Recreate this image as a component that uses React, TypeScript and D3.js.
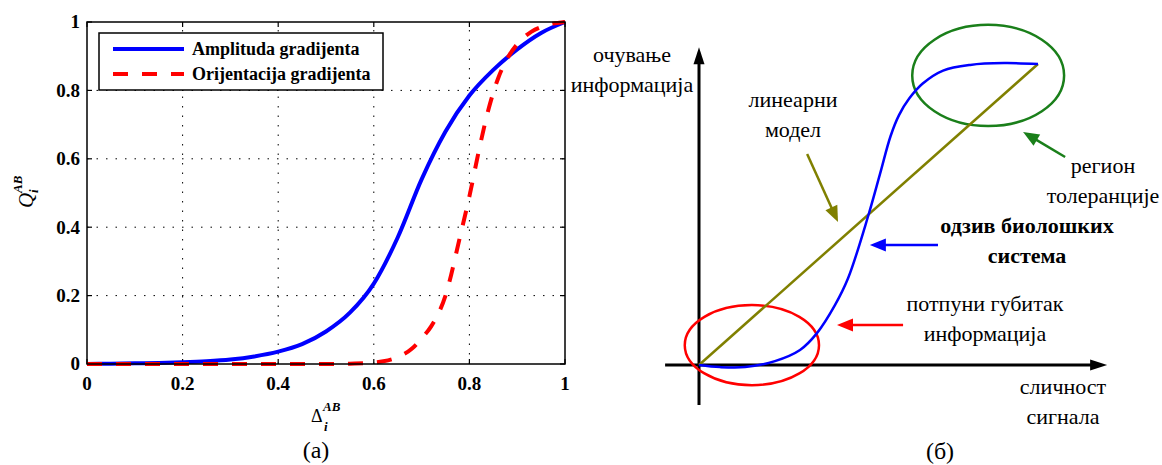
import React, { useEffect, useRef } from "react";
import * as d3 from "d3";

// ---- left panel (a): Q_i^AB vs Delta_i^AB ----
const tickValues = [0, 0.2, 0.4, 0.6, 0.8, 1];
const tickLabels = ["0", "0.2", "0.4", "0.6", "0.8", "1"];
const legendLabels = ["Amplituda gradijenta", "Orijentacija gradijenta"];

const ampX = [0, 0.05, 0.1, 0.15, 0.2, 0.25, 0.3, 0.35, 0.4, 0.45, 0.5, 0.55, 0.6, 0.65, 0.7, 0.75, 0.8, 0.85, 0.9, 0.95, 1];
const ampY = [0, 0.001, 0.002, 0.003, 0.005, 0.008, 0.013, 0.022, 0.036, 0.058, 0.095, 0.15, 0.235, 0.37, 0.54, 0.68, 0.785, 0.86, 0.92, 0.968, 1];

const oriX = [0, 0.1, 0.2, 0.3, 0.4, 0.5, 0.55, 0.6, 0.62, 0.65, 0.68, 0.7, 0.72, 0.75, 0.78, 0.8, 0.82, 0.84, 0.86, 0.88, 0.9, 0.93, 0.96, 1];
const oriY = [0, 0, 0, 0, 0, 0, 0.001, 0.004, 0.008, 0.02, 0.045, 0.075, 0.11, 0.2, 0.37, 0.49, 0.625, 0.745, 0.835, 0.895, 0.935, 0.972, 0.99, 1];

// ---- right panel (б): schematic ----
const bioX = [0, 0.062, 0.136, 0.224, 0.298, 0.348, 0.401, 0.44, 0.499, 0.534, 0.565, 0.59, 0.62, 0.66, 0.72, 0.8, 0.9, 1];
const bioY = [0, -0.007, -0.007, 0.013, 0.05, 0.106, 0.199, 0.289, 0.495, 0.635, 0.76, 0.83, 0.885, 0.935, 0.978, 0.997, 1.003, 1];
const linX = [0, 1];
const linY = [0, 1];

// regions (centre x, centre y, radius x, radius y) in diagram units
const regions = [
  { cx: 0.156, cy: 0.066, rx: 0.198, ry: 0.133, color: "#ff0000" },
  { cx: 0.853, cy: 0.962, rx: 0.224, ry: 0.168, color: "#1a7f1a" },
];

// annotation arrows, tail -> tip, in diagram units
const pointers = [
  { x0: 0.319, y0: 0.701, x1: 0.41, y1: 0.475, color: "#808000" },
  { x0: 0.705, y0: 0.399, x1: 0.504, y1: 0.399, color: "#0000ff" },
  { x0: 0.602, y0: 0.133, x1: 0.407, y1: 0.133, color: "#ff0000" },
  { x0: 1.08, y0: 0.691, x1: 0.956, y1: 0.774, color: "#1a7f1a" },
];

const labels = [
  { lines: ["очување", "информација"], x: 632, y: 62, bold: false },
  { lines: ["линеарни", "модел"], x: 793, y: 107, bold: false },
  { lines: ["регион", "толеранције"], x: 1103, y: 173, bold: false },
  { lines: ["одзив биолошких", "система"], x: 1027, y: 233, bold: true },
  { lines: ["потпуни губитак", "информација"], x: 985, y: 311, bold: false },
  { lines: ["сличност", "сигнала"], x: 1063, y: 394, bold: false },
];

const SERIF = "Liberation Serif";

const App = () => {
  const svgRef = useRef(null);

  useEffect(() => {
    if (!svgRef.current) return;
    const width = 1162;
    const height = 465;

    d3.select(svgRef.current).selectAll("*").remove();
    const svg = d3
      .select(svgRef.current)
      .attr("width", width)
      .attr("height", height);

    const txt = (sel, size, weight = "normal", style = "normal") =>
      sel
        .append("text")
        .attr("font-family", SERIF)
        .attr("font-size", size)
        .attr("font-weight", weight)
        .attr("font-style", style);

    // ===== panel (a) =====
    const x = d3.scaleLinear().domain([0, 1]).range([87, 565]);
    const y = d3.scaleLinear().domain([0, 1]).range([364, 22]);

    const g = svg.append("g");

    // dotted grid
    tickValues.slice(1, -1).forEach((t) => {
      g.append("line")
        .attr("x1", x(t)).attr("x2", x(t))
        .attr("y1", y(0)).attr("y2", y(1))
        .attr("stroke", "#000").attr("stroke-width", 1)
        .attr("stroke-dasharray", "1.5,8");
      g.append("line")
        .attr("x1", x(0)).attr("x2", x(1))
        .attr("y1", y(t)).attr("y2", y(t))
        .attr("stroke", "#000").attr("stroke-width", 1)
        .attr("stroke-dasharray", "1.5,8");
    });

    // ticks on all four sides, pointing inward
    tickValues.forEach((t) => {
      [[y(0), -5], [y(1), 5]].forEach(([yy, d]) =>
        g.append("line")
          .attr("x1", x(t)).attr("x2", x(t))
          .attr("y1", yy).attr("y2", yy + d)
          .attr("stroke", "#000").attr("stroke-width", 1.2)
      );
      [[x(0), 5], [x(1), -5]].forEach(([xx, d]) =>
        g.append("line")
          .attr("x1", xx).attr("x2", xx + d)
          .attr("y1", y(t)).attr("y2", y(t))
          .attr("stroke", "#000").attr("stroke-width", 1.2)
      );
    });

    // tick labels
    tickValues.forEach((t, i) => {
      txt(g, 19, "bold")
        .attr("x", x(t)).attr("y", 390)
        .attr("text-anchor", "middle")
        .text(tickLabels[i]);
      txt(g, 19, "bold")
        .attr("x", 80).attr("y", y(t))
        .attr("dy", "0.34em")
        .attr("text-anchor", "end")
        .text(tickLabels[i]);
    });

    const line = d3
      .line()
      .x((d) => x(d[0]))
      .y((d) => y(d[1]))
      .curve(d3.curveMonotoneX);

    g.append("path")
      .attr("d", line(ampX.map((v, i) => [v, ampY[i]])))
      .attr("fill", "none").attr("stroke", "#0000ff").attr("stroke-width", 4);
    g.append("path")
      .attr("d", line(oriX.map((v, i) => [v, oriY[i]])))
      .attr("fill", "none").attr("stroke", "#ff0000").attr("stroke-width", 4)
      .attr("stroke-dasharray", "15,14");

    // axes box
    g.append("rect")
      .attr("x", x(0)).attr("y", y(1))
      .attr("width", x(1) - x(0)).attr("height", y(0) - y(1))
      .attr("fill", "none").attr("stroke", "#000").attr("stroke-width", 1.5);

    // legend
    const leg = g.append("g");
    leg.append("rect")
      .attr("x", 99).attr("y", 33).attr("width", 284).attr("height", 57)
      .attr("fill", "#fff").attr("stroke", "#000").attr("stroke-width", 1.5);
    legendLabels.forEach((lab, i) => {
      const ly = 49 + i * 25;
      leg.append("line")
        .attr("x1", 113).attr("x2", 184).attr("y1", ly).attr("y2", ly)
        .attr("stroke", i === 0 ? "#0000ff" : "#ff0000")
        .attr("stroke-width", 4)
        .attr("stroke-dasharray", i === 0 ? null : "15,14");
      txt(leg, 18, "bold")
        .attr("x", 192).attr("y", ly).attr("dy", "0.33em")
        .text(lab);
    });

    // y label Q_i^AB (rotated)
    const yl = g.append("g").attr("transform", "translate(30,200) rotate(-90)");
    txt(yl, 21, "normal", "italic").attr("x", -8).attr("y", 3).text("Q");
    txt(yl, 13, "bold", "italic").attr("x", 7).attr("y", 8).text("i");
    txt(yl, 13, "bold", "italic").attr("x", 7).attr("y", -8).text("AB");

    // x label Delta_i^AB
    txt(g, 18).attr("x", 311).attr("y", 422).text("Δ");
    txt(g, 13, "bold", "italic").attr("x", 324).attr("y", 431).text("i");
    txt(g, 13, "bold", "italic").attr("x", 323).attr("y", 411).text("AB");

    txt(g, 24).attr("x", 316).attr("y", 458)
      .attr("text-anchor", "middle").text("(a)");

    // ===== panel (б) =====
    const xr = d3.scaleLinear().domain([0, 1]).range([699, 1038]);
    const yr = d3.scaleLinear().domain([0, 1]).range([365, 64]);
    const r = svg.append("g");

    const arrow = (x0, y0, x1, y1, color, w, headLen, headHalf) => {
      const dx = x1 - x0;
      const dy = y1 - y0;
      const len = Math.hypot(dx, dy);
      const ux = dx / len;
      const uy = dy / len;
      const bx = x1 - ux * headLen;
      const by = y1 - uy * headLen;
      r.append("line")
        .attr("x1", x0).attr("y1", y0).attr("x2", bx + ux * 2).attr("y2", by + uy * 2)
        .attr("stroke", color).attr("stroke-width", w);
      r.append("polygon")
        .attr("points", [
          [x1, y1],
          [bx - uy * headHalf, by + ux * headHalf],
          [bx + uy * headHalf, by - ux * headHalf],
        ].map((p) => p.join(",")).join(" "))
        .attr("fill", color);
    };

    // coordinate axes
    arrow(xr(0), yr(-0.133), xr(0), yr(1.056), "#000", 3, 17, 5.5);
    arrow(xr(-0.1), yr(0), xr(1.204), yr(0), "#000", 3, 17, 5.5);

    // regions
    regions.forEach((e) => {
      r.append("ellipse")
        .attr("cx", xr(e.cx)).attr("cy", yr(e.cy))
        .attr("rx", xr(e.rx) - xr(0)).attr("ry", yr(0) - yr(e.ry))
        .attr("fill", "none").attr("stroke", e.color).attr("stroke-width", 2.5);
    });

    // linear model
    r.append("path")
      .attr("d", d3.line()(linX.map((v, i) => [xr(v), yr(linY[i])])))
      .attr("fill", "none").attr("stroke", "#808000").attr("stroke-width", 2.5);

    // biological response
    r.append("path")
      .attr("d", d3.line().curve(d3.curveCatmullRom.alpha(0.5))(bioX.map((v, i) => [xr(v), yr(bioY[i])])))
      .attr("fill", "none").attr("stroke", "#0000ff").attr("stroke-width", 2.5);

    pointers.forEach((p) =>
      arrow(xr(p.x0), yr(p.y0), xr(p.x1), yr(p.y1), p.color, 2.5, 16, 6.5)
    );

    labels.forEach((l) => {
      const t = txt(r, 22, l.bold ? "bold" : "normal").attr("text-anchor", "middle");
      l.lines.forEach((s, i) =>
        t.append("tspan").attr("x", l.x).attr("y", l.y + i * 30).text(s)
      );
    });

    txt(r, 24).attr("x", 940).attr("y", 459)
      .attr("text-anchor", "middle").text("(б)");
  }, []);

  return (
    <svg
      ref={svgRef}
      style={{ position: "absolute", left: 0, top: 0, display: "block", background: "#fff", fontFamily: "Liberation Serif" }}
    ></svg>
  );
};

export default App;
